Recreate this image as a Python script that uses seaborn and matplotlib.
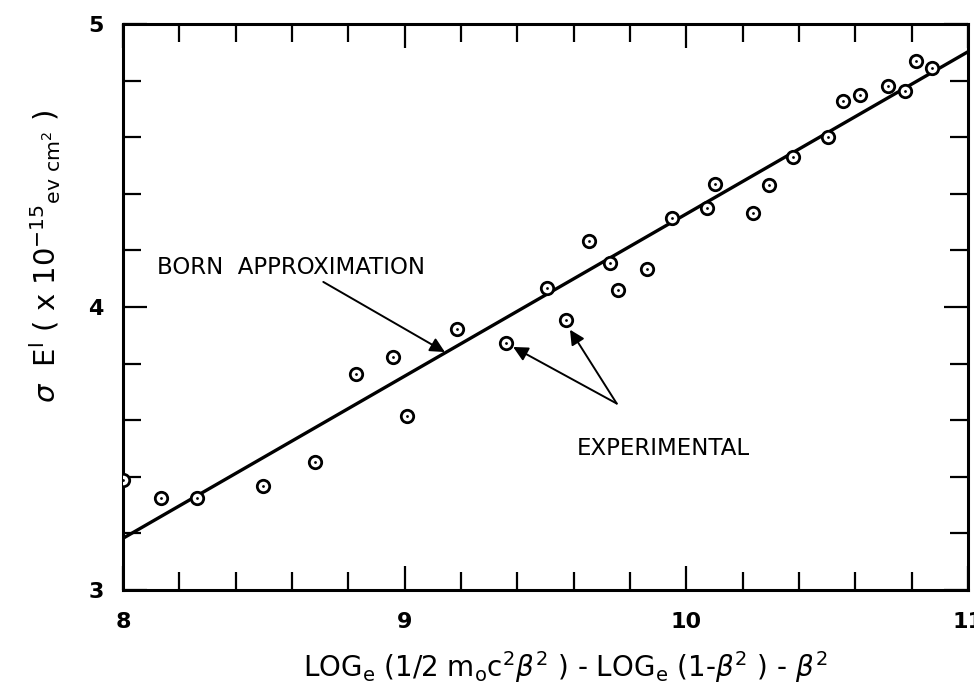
import matplotlib
matplotlib.use("Agg")
import matplotlib.pyplot as plt
from matplotlib.ticker import MultipleLocator
import seaborn as sns
import pandas as pd

# Datos
exp_x = [8.00, 8.135, 8.264, 8.498, 8.683, 8.827, 8.960, 9.008, 9.185, 9.360,
         9.506, 9.573, 9.655, 9.729, 9.758, 9.859, 9.948, 10.075, 10.102, 10.237,
         10.294, 10.380, 10.504, 10.555, 10.615, 10.715, 10.776, 10.817, 10.873]
exp_y = [3.39, 3.324, 3.324, 3.367, 3.451, 3.763, 3.822, 3.616, 3.922, 3.874,
         4.066, 3.954, 4.234, 4.157, 4.060, 4.133, 4.313, 4.351, 4.434, 4.331,
         4.431, 4.529, 4.602, 4.728, 4.750, 4.780, 4.763, 4.869, 4.846]

born_x = [8.0, 11.0]
born_y = [3.183, 4.902]

x_ticks = [8, 9, 10, 11]
x_labels = ["8", "9", "10", "11"]
y_ticks = [3, 4, 5]
y_labels = ["3", "4", "5"]

datos = pd.DataFrame({"x": exp_x, "y": exp_y})
teoria = pd.DataFrame({"x": born_x, "y": born_y})

sns.set_theme(style="white")
plt.rcParams['font.family'] = ['DejaVu Sans']
plt.rcParams['mathtext.fontset'] = 'dejavusans'
plt.rcParams['text.color'] = 'black'
plt.rcParams['axes.labelcolor'] = 'black'
plt.rcParams['xtick.color'] = 'black'
plt.rcParams['ytick.color'] = 'black'

fig = plt.figure(figsize=(9.74, 7.0), dpi=100)
ax = fig.add_axes([0.1263, 0.157, 0.8675, 0.8087])

# Linea de la aproximacion de Born
sns.lineplot(data=teoria, x="x", y="y", ax=ax, color="black", linewidth=2.4,
             zorder=2)

# Puntos experimentales (circulo con punto)
sns.scatterplot(data=datos, x="x", y="y", ax=ax, marker="o", s=80,
                facecolor="white", edgecolor="black", linewidth=2.0, zorder=3)
sns.scatterplot(data=datos, x="x", y="y", ax=ax, marker="o", s=4,
                color="black", linewidth=0, zorder=4)

ax.set_xlim(8, 11)
ax.set_ylim(3, 5)
ax.set_xticks(x_ticks)
ax.set_xticklabels(x_labels, fontweight="bold")
ax.set_yticks(y_ticks)
ax.set_yticklabels(y_labels, fontweight="bold")
ax.xaxis.set_minor_locator(MultipleLocator(0.2))
ax.yaxis.set_minor_locator(MultipleLocator(0.2))
ax.tick_params(which="both", direction="in", top=True, right=True,
               bottom=True, left=True, width=1.6, color="black",
               labelcolor="black", labelsize=16)
ax.tick_params(axis="x", which="both", pad=16)
ax.tick_params(axis="y", which="both", pad=14)
ax.tick_params(which="major", length=17)
ax.tick_params(which="minor", length=13)
for s in ax.spines.values():
    s.set_linewidth(2.2)
    s.set_color("black")

ax.set_xlabel(r"LOG$_{\rm e}$ (1/2 m$_{\rm o}$c$^{2}\beta^{2}$ ) - LOG$_{\rm e}$ (1-$\beta^{2}$ ) - $\beta^{2}$",
              fontsize=20, color="black")
ax.xaxis.set_label_coords(0.523, -0.105)
ax.xaxis.label.set_va("top")
ax.set_ylabel(r"$\sigma$  E$^{\rm l}$ ( x 10$^{-15}$$_{\rm ev\ cm^{2}}$ )",
              fontsize=21, color="black")
ax.yaxis.set_label_coords(-0.092, 0.59)
ax.yaxis.label.set_va("center")

# Anotaciones
ax.annotate("BORN  APPROXIMATION", xy=(9.143, 3.841), xytext=(8.12, 4.141),
            fontsize=16.5, ha="left", va="center", color="black",
            arrowprops=dict(arrowstyle="-|>", color="black", lw=1.4,
                            mutation_scale=22, shrinkA=0, shrinkB=0,
                            relpos=(0.6, 0.0)))
ax.text(9.92, 3.50, "EXPERIMENTAL", fontsize=16.5, ha="center", va="center",
        color="black")
ax.annotate("", xy=(9.385, 3.859), xytext=(9.753, 3.659),
            arrowprops=dict(arrowstyle="-|>", color="black", lw=1.4,
                            mutation_scale=22, shrinkA=0, shrinkB=0))
ax.annotate("", xy=(9.587, 3.92), xytext=(9.753, 3.659),
            arrowprops=dict(arrowstyle="-|>", color="black", lw=1.4,
                            mutation_scale=22, shrinkA=0, shrinkB=0))

fig.savefig("out.png", dpi=100)
